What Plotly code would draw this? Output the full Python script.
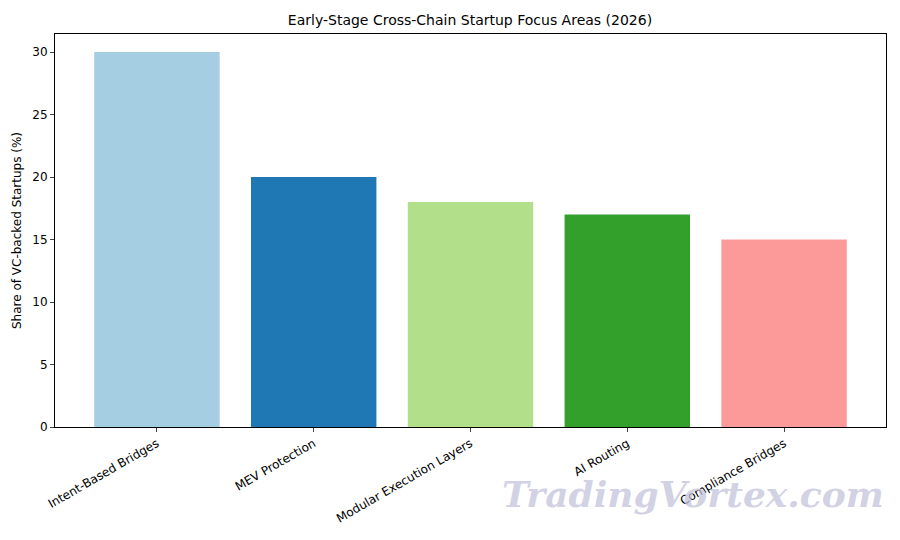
import plotly.graph_objects as go

categories = ["Intent-Based Bridges", "MEV Protection", "Modular Execution Layers", "AI Routing", "Compliance Bridges"]
shares = [30, 20, 18, 17, 15]
colors = ["#a6cee3", "#1f78b4", "#b2df8a", "#33a02c", "#fb9a99"]

fig = go.Figure(go.Bar(x=list(range(len(categories))), y=shares, marker=dict(color=colors, line_width=0), width=0.8))

# page body adds an 8px offset, so margins are compensated
fig.update_layout(
    width=900, height=540,
    margin=dict(l=47, r=22, t=26, b=121),
    plot_bgcolor="white", paper_bgcolor="white",
    font=dict(family="DejaVu Sans", size=12, color="black"),
    title=dict(text="Early-Stage Cross-Chain Startup Focus Areas (2026)", x=(470 - 8) / 900, xanchor="center",
               y=1 - 12 / 540, yanchor="middle", font=dict(size=14)),
    showlegend=False,
)
fig.update_xaxes(range=[-0.65, 4.65], tickvals=list(range(len(categories))), ticktext=categories, automargin=False,
                 tickangle=-30, ticks="outside", ticklen=4, showline=True, linecolor="black", mirror=True, showgrid=False)
fig.update_yaxes(range=[0, 31.44], tickvals=[0, 5, 10, 15, 20, 25, 30], ticks="outside", ticklen=4, automargin=False,
                 showline=True, linecolor="black", mirror=True, showgrid=False, zeroline=False,
                 title=dict(text="Share of VC-backed Startups (%)", font=dict(size=12), standoff=8))
fig.add_annotation(text="<i><b>TradingVortex.com</b></i>", xref="paper", yref="paper", x=1.0, y=-0.17,
                   xanchor="right", yanchor="middle", showarrow=False,
                   font=dict(family="DejaVu Serif", size=36, color="rgba(195,195,220,0.75)"))
fig.write_html("out.html")
